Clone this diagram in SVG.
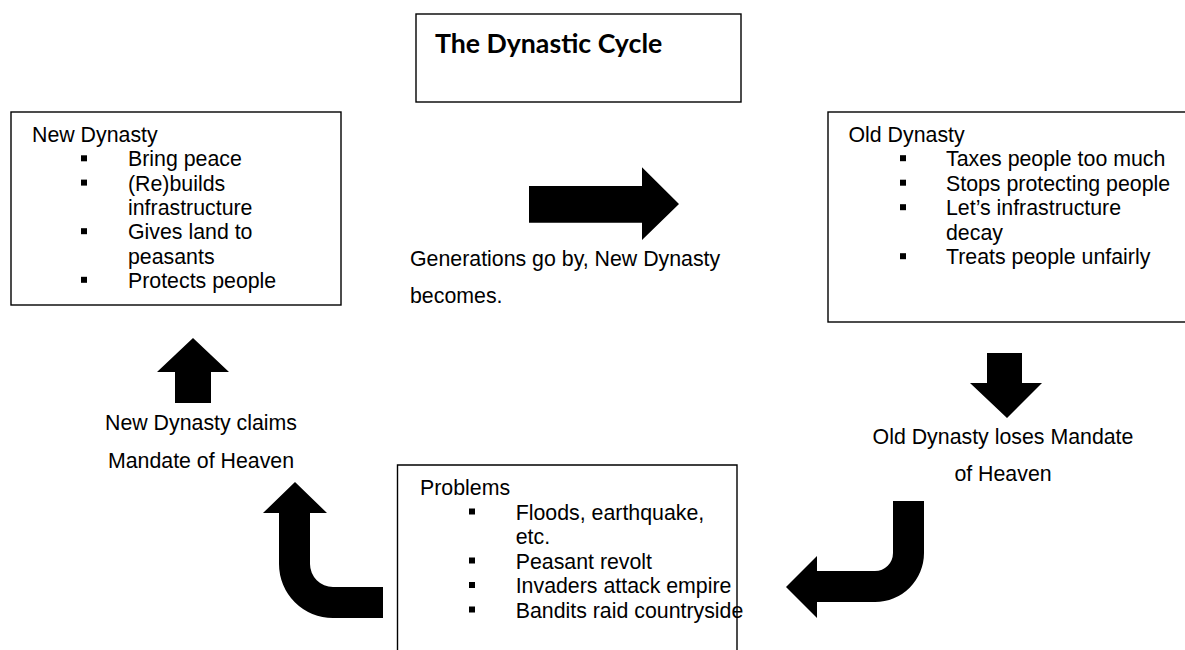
<svg xmlns="http://www.w3.org/2000/svg" width="1185" height="650" viewBox="0 0 1185 650">
<style>
.box{fill:#fff;stroke:#000;stroke-width:1.4}
.t{font-family:"Liberation Sans",Arial,sans-serif;font-size:21.33px;fill:#000}
.title{font-family:Lato,"Liberation Sans",sans-serif;font-weight:bold;font-size:26.7px;fill:#000}
.arr{fill:#000;stroke:none}
.b{fill:#000}
</style>
<rect width="1185" height="650" fill="#fff"/>
<g id="title">
<rect class="box" x="416" y="14" width="325" height="88"/>
<text class="title" x="435" y="53">The Dynastic Cycle</text>
</g>
<g id="new-dynasty">
<rect class="box" x="11" y="112" width="330" height="193"/>
<text class="t" x="32" y="142">New Dynasty</text>
<rect class="b" x="81" y="155.3" width="6" height="6"/>
<text class="t" x="128" y="166.3">Bring peace</text>
<rect class="b" x="81" y="179.6" width="6" height="6"/>
<text class="t" x="128" y="190.6">(Re)builds</text>
<text class="t" x="128" y="214.9">infrastructure</text>
<rect class="b" x="81" y="228.2" width="6" height="6"/>
<text class="t" x="128" y="239.2">Gives land to</text>
<text class="t" x="128" y="263.5">peasants</text>
<rect class="b" x="81" y="276.8" width="6" height="6"/>
<text class="t" x="128" y="287.8">Protects people</text>
</g>
<g id="old-dynasty">
<rect class="box" x="828" y="112" width="362" height="210"/>
<text class="t" x="848.5" y="141.7">Old Dynasty</text>
<rect class="b" x="900" y="155.2" width="6" height="6"/>
<text class="t" x="946" y="166.2">Taxes people too much</text>
<rect class="b" x="900" y="179.7" width="6" height="6"/>
<text class="t" x="946" y="190.7">Stops protecting people</text>
<rect class="b" x="900" y="204.2" width="6" height="6"/>
<text class="t" x="946" y="215.2">Let’s infrastructure</text>
<text class="t" x="946" y="239.7">decay</text>
<rect class="b" x="900" y="253.2" width="6" height="6"/>
<text class="t" x="946" y="264.2">Treats people unfairly</text>
</g>
<g id="problems">
<path class="box" d="M397.5,660 V465 H737 V660" fill="#fff"/>
<text class="t" x="420" y="495">Problems</text>
<rect class="b" x="469" y="508.5" width="6" height="6"/>
<text class="t" x="515.7" y="519.5">Floods, earthquake,</text>
<text class="t" x="515.7" y="544">etc.</text>
<rect class="b" x="469" y="557.5" width="6" height="6"/>
<text class="t" x="515.7" y="568.5">Peasant revolt</text>
<rect class="b" x="469" y="582" width="6" height="6"/>
<text class="t" x="515.7" y="593">Invaders attack empire</text>
<rect class="b" x="469" y="606.5" width="6" height="6"/>
<text class="t" x="515.7" y="617.5">Bandits raid countryside</text>
</g>
<g id="connectors">
<path class="arr" d="M529,186 H642 V167.3 L679,204 L642,240 V222.7 H529 Z"/>
<path class="arr" d="M987,353 H1022 V383 H1042 L1007,418 L970,383 H987 Z"/>
<path class="arr" d="M924,501 V553 A49,49 0 0 1 875,602 H817 V618 L786,587 L817,556 V571 H875 A18,18 0 0 0 893,553 V501 Z"/>
<path class="arr" d="M295,482 L327,513 H310 V564 A23,23 0 0 0 333,587 H383 V618 H333 A54,54 0 0 1 279,564 V513 H263 Z"/>
<path class="arr" d="M193,338 L229,372 H211 V403 H175 V372 H157 Z"/>
</g>
<g id="labels">
<text class="t" x="410" y="266">Generations go by, New Dynasty</text>
<text class="t" x="410" y="303">becomes.</text>
<text class="t" x="1003" y="444" text-anchor="middle">Old Dynasty loses Mandate</text>
<text class="t" x="1003" y="481" text-anchor="middle">of Heaven</text>
<text class="t" x="201" y="430" text-anchor="middle">New Dynasty claims</text>
<text class="t" x="201" y="468" text-anchor="middle">Mandate of Heaven</text>
</g>
</svg>
